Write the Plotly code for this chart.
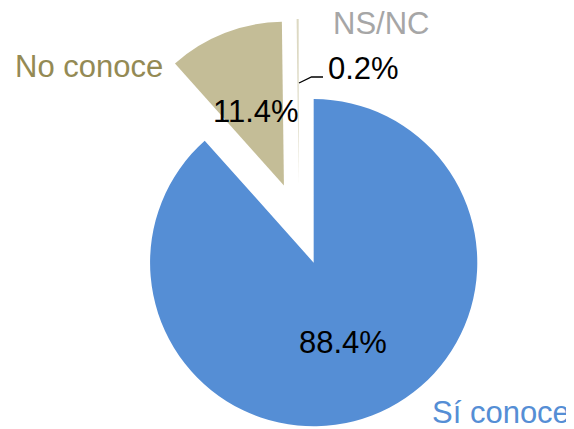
import plotly.graph_objects as go

# datos de la encuesta
categorias = ["Sí conoce", "No conoce", "NS/NC"]
porcentajes = [88.4, 11.4, 0.2]
colores = ["#558ED5", "#C4BD97", "#DDD9C3"]
colores_texto = ["#558ED5", "#948A54", "#A6A6A6"]

# la página deja 8 px de margen en el body, así que la figura ocupa 566x421 de la ventana
W, H = 566, 421
OFF = 8


def px2paper(x, y):
    # x, y en píxeles de la ventana
    return (x - OFF) / W, 1 - (y - OFF) / H


fig = go.Figure(go.Pie(
    labels=categorias,
    values=porcentajes,
    sort=False,
    direction="clockwise",
    rotation=0,
    pull=[0.253, 0.253, 0.253],
    marker=dict(colors=colores, line=dict(width=0)),
    textinfo="none",
    hoverinfo="label+percent",
    showlegend=False,
    domain=dict(x=[0.145, 0.883], y=[0, 1 - 11 / H]),
))

# posiciones (px de ventana) de las etiquetas: nombre de categoría y porcentaje
pos_nombre = [(501, 412), (89, 66), (381, 23)]
pos_valor = [(343, 342), (256, 112), (363, 68)]

anns = []
for cat, val, col, pn, pv in zip(categorias, porcentajes, colores_texto, pos_nombre, pos_valor):
    x, y = px2paper(*pn)
    anns.append(dict(x=x, y=y, xref="paper", yref="paper", text=cat, showarrow=False,
                     xanchor="center", yanchor="middle",
                     font=dict(family="Liberation Sans, Arial", size=31, color=col)))
    x, y = px2paper(*pv)
    anns.append(dict(x=x, y=y, xref="paper", yref="paper", text=f"{val:.1f}%", showarrow=False,
                     xanchor="center", yanchor="middle",
                     font=dict(family="Liberation Sans, Arial", size=31, color="black")))

# línea guía para NS/NC
p1 = px2paper(299, 83)
p2 = px2paper(311.5, 77)
p3 = px2paper(323, 77)
linea = f"M {p1[0]} {p1[1]} L {p2[0]} {p2[1]} L {p3[0]} {p3[1]}"

fig.update_layout(
    width=W, height=H,
    margin=dict(l=0, r=0, t=0, b=0),
    paper_bgcolor="white",
    annotations=anns,
    shapes=[dict(type="path", path=linea, xref="paper", yref="paper",
                 line=dict(color="black", width=1.3))],
)

fig.write_html("out.html")
